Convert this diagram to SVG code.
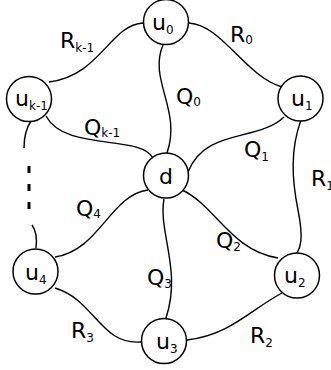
<svg xmlns="http://www.w3.org/2000/svg" width="331" height="370" viewBox="0 0 331 370">
<style>
.n{fill:#fff;stroke:#000;stroke-width:1.5}
.e{fill:none;stroke:#000;stroke-width:1.4}
text{font-family:"DejaVu Sans",sans-serif;font-size:22px;fill:#000}
.s{font-size:12px}
</style>
<rect width="331" height="370" fill="#fff"/>
<g id="connectors">
<path class="e" d="M189,23 C222,25 245,76 282,87"/>
<path class="e" d="M143,23 C110,25 100,76 49,82"/>
<path class="e" d="M163,45 C148,80 182,110 167,153"/>
<path class="e" d="M46,116 C65,152 140,134 153,158"/>
<path class="e" d="M284,117 C258,142 205,128 188,172"/>
<path class="e" d="M301,120 C290,150 292,180 298,210 C304,240 300,248 297,253"/>
<path class="e" d="M182,190 C215,205 230,250 278,258"/>
<path class="e" d="M148,190 C110,195 100,250 55,257"/>
<path class="e" d="M164,199 C158,232 182,270 166,318"/>
<path class="e" d="M55,288 C95,300 100,345 141,342"/>
<path class="e" d="M187,340 C230,335 250,310 282,293"/>
<path class="e" d="M31,121 C25,130 24,140 24,148"/>
<path class="e" d="M32,225 C37,232 37,240 36,248"/>
<path fill="none" stroke="#000" stroke-width="3" stroke-dasharray="7 11" d="M29,166 V210"/>
</g>
<g id="u0"><circle class="n" cx="166" cy="22" r="22.5"/><text x="152" y="30">u<tspan class="s" dy="4">0</tspan></text></g>
<g id="u1"><circle class="n" cx="300.5" cy="98.5" r="22.5"/><text x="291" y="106">u<tspan class="s" dy="4">1</tspan></text></g>
<g id="uk-1"><circle class="n" cx="29" cy="99" r="22.5"/><text x="15" y="106">u<tspan class="s" dy="4">k-1</tspan></text></g>
<g id="d"><circle class="n" cx="166" cy="175.5" r="22.5"/><text x="166" y="184" text-anchor="middle">d</text></g>
<g id="u2"><circle class="n" cx="297" cy="275.5" r="22.5"/><text x="284" y="283">u<tspan class="s" dy="4">2</tspan></text></g>
<g id="u4"><circle class="n" cx="35.5" cy="271.5" r="22.5"/><text x="25" y="280">u<tspan class="s" dy="4">4</tspan></text></g>
<g id="u3"><circle class="n" cx="164" cy="341" r="22.5"/><text x="156" y="349">u<tspan class="s" dy="4">3</tspan></text></g>
<g id="labels">
<text x="60" y="48">R<tspan class="s" dy="4">k-1</tspan></text>
<text x="230" y="42">R<tspan class="s" dy="2">0</tspan></text>
<text x="176" y="104">Q<tspan class="s" dy="2">0</tspan></text>
<text x="84" y="135">Q<tspan class="s" dy="2">k-1</tspan></text>
<text x="244" y="157">Q<tspan class="s" dy="4">1</tspan></text>
<text x="311" y="186">R<tspan class="s" dy="4">1</tspan></text>
<text x="76" y="216">Q<tspan class="s" dy="2">4</tspan></text>
<text x="216" y="248">Q<tspan class="s" dy="3">2</tspan></text>
<text x="147" y="285">Q<tspan class="s" dy="3">3</tspan></text>
<text x="71" y="338">R<tspan class="s" dy="4">3</tspan></text>
<text x="250" y="343">R<tspan class="s" dy="4">2</tspan></text>
</g>
</svg>
